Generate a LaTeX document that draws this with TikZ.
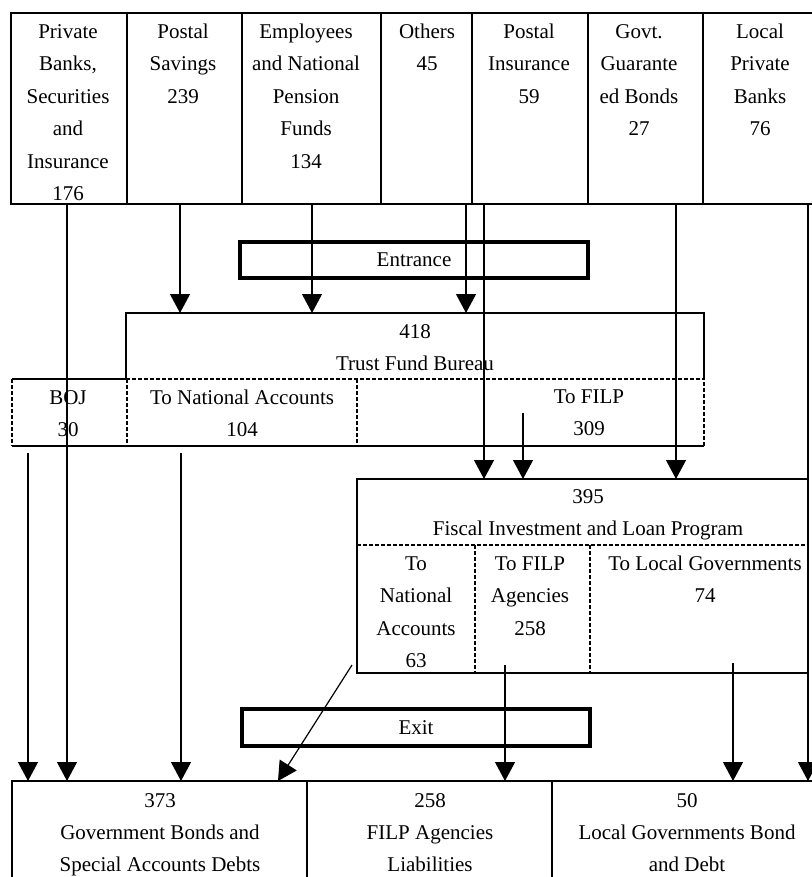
\documentclass[tikz,border=0pt]{standalone}
\usepackage{fontspec}
\setmainfont{Liberation Serif}
\usetikzlibrary{arrows.meta}
\begin{document}
\begin{tikzpicture}[x=1pt,y=-1pt,
  ln/.style={line width=1.2pt},
  dsh/.style={line width=1.1pt, dash pattern=on 4pt off 2pt},
  cell/.style={inner sep=0pt, outer sep=0pt, anchor=north west},
  cellD/.style={cell, draw, line width=1.2pt},
  txt/.style={inner sep=0pt, outer sep=0pt, anchor=north, yshift=16.5pt, align=center, font=\fontsize{21}{32.5}\selectfont},
  btxt/.style={txt, font=\fontsize{21}{32}\selectfont},
  gate/.style={draw, line width=3.3pt, inner sep=0pt, outer sep=0pt, font=\fontsize{21}{25}\selectfont},
  arr/.style={line width=1.2pt, -{Triangle[width=20pt,length=19pt]}}
]
\fill[white] (0,0) rectangle (811,877);
\useasboundingbox (0,0) rectangle (811,877);

% ---------- top row of sources ----------
\node[cellD, minimum width=116pt, minimum height=191pt] (t1) at (11,13) {};
\node[cellD, minimum width=115pt, minimum height=191pt] (t2) at (127,13) {};
\node[cellD, minimum width=139pt, minimum height=191pt] (t3) at (242,13) {};
\node[cellD, minimum width=91pt,  minimum height=191pt] (t4) at (381,13) {};
\node[cellD, minimum width=116pt, minimum height=191pt] (t5) at (472,13) {};
\node[cellD, minimum width=115pt, minimum height=191pt] (t6) at (588,13) {};
\node[cellD, minimum width=112pt, minimum height=191pt] (t7) at (703,13) {};

\node[txt] (l1) at (68,32)  {\strut Private\\Banks,\\Securities\\and\\Insurance\\176};
\node[txt] (l2) at (183,32) {\strut Postal\\Savings\\239};
\node[txt] (l3) at (306,32) {\strut Employees\\and National\\Pension\\Funds\\134};
\node[txt] (l4) at (427,32) {\strut Others\\45};
\node[txt] (l5) at (529,32) {\strut Postal\\Insurance\\59};
\node[txt] (l6) at (639,32) {\strut Govt.\\Guarante\\ed Bonds\\27};
\node[txt] (l7) at (760,32) {\strut Local\\Private\\Banks\\76};

% ---------- Trust Fund Bureau ----------
\node[cell, minimum width=578pt, minimum height=66pt] (tfb) at (126,313) {};
\node[cell, minimum width=115pt, minimum height=67pt] (boj) at (12,379) {};
\node[cell, minimum width=230pt, minimum height=67pt] (tna) at (127,379) {};
\node[cell, minimum width=347pt, minimum height=67pt] (tfp) at (357,379) {};

\draw[ln] (tfb.south west) -- (tfb.north west) -- (tfb.north east) -- (tfb.south east);
\draw[dsh] (tfb.south west) -- (tfb.south east);
\draw[ln] (boj.north west) -- (tfb.south west);
\draw[dsh] (boj.north west) -- (boj.south west);
\draw[ln] (boj.south west) -- (tfp.south east);
\draw[dsh] (tfp.south east) -- (tfp.north east);
\draw[dsh] (boj.north east) -- (boj.south east);
\draw[dsh] (tna.north east) -- (tna.south east);

\node[txt] (tfbt) at (415,332) {\strut 418\\Trust Fund Bureau};
\node[txt] (bojt) at (68,398)  {\strut BOJ\\30};
\node[txt] (tnat) at (242,398) {\strut To National Accounts\\104};
\node[txt] (tfpt) at (589,397) {\strut To FILP\\309};

% ---------- FILP ----------
\node[cell, minimum width=451pt, minimum height=66pt]  (fu) at (357,479) {};
\node[cell, minimum width=118pt, minimum height=128pt] (fn) at (357,545) {};
\node[cell, minimum width=115pt, minimum height=128pt] (fa) at (475,545) {};
\node[cell, minimum width=218pt, minimum height=128pt] (fl) at (590,545) {};

\draw[ln] (fu.north west) rectangle (fl.south east);
\draw[dsh] (fu.south west) -- (fu.south east);
\draw[dsh] (fn.north east) -- (fn.south east);
\draw[dsh] (fa.north east) -- (fa.south east);

\node[txt] (fut) at (588,497) {\strut 395\\Fiscal Investment and Loan Program};
\node[txt] (fnt) at (416,564) {\strut To\\National\\Accounts\\63};
\node[txt] (fat) at (530,564) {\strut To FILP\\Agencies\\258};
\node[txt] (flt) at (705,564) {\strut To Local Governments\\74};

% ---------- bottom row ----------
\node[cellD, minimum width=295pt, minimum height=100pt] (b1) at (12,781) {};
\node[cellD, minimum width=245pt, minimum height=100pt] (b2) at (307,781) {};
\node[cellD, minimum width=263pt, minimum height=100pt] (b3) at (552,781) {};

\node[btxt] (b1t) at (160,802) {\strut 373\\Government Bonds and\\Special Accounts Debts};
\node[btxt] (b2t) at (430,802) {\strut 258\\FILP Agencies\\Liabilities};
\node[btxt] (b3t) at (687,802) {\strut 50\\Local Governments Bond\\and Debt};

% ---------- connectors ----------
\coordinate (a28)  at (28,0);
\coordinate (a67)  at (67,0);
\coordinate (a180) at (180,0);
\coordinate (a181) at (181,0);
\coordinate (a312) at (312,0);
\coordinate (a466) at (466,0);
\coordinate (a484) at (484,0);
\coordinate (a676) at (676,0);
\coordinate (a808) at (808,0);
\coordinate (s523) at (523,413);
\coordinate (s505) at (505,665);
\coordinate (s733) at (733,663);
\coordinate (s352) at (352,665);
\coordinate (e278) at (278,0);

\draw[arr] (a67 |- t1.south) -- (a67 |- b1.north);
\draw[arr] (a180 |- t2.south) -- (a180 |- tfb.north);
\draw[arr] (a312 |- t3.south) -- (a312 |- tfb.north);
\draw[arr] (a466 |- t4.south) -- (a466 |- tfb.north);
\draw[arr] (a484 |- t5.south) -- (a484 |- fu.north);
\draw[arr] (a676 |- t6.south) -- (a676 |- fu.north);
\draw[arr] (a808 |- t7.south) -- (a808 |- b3.north);
\draw[arr] (s523) -- (s523 |- fu.north);
\draw[arr, shorten <=7pt] (a28 |- boj.south) -- (a28 |- b1.north);
\draw[arr, shorten <=7pt] (a181 |- tna.south) -- (a181 |- b1.north);
\draw[arr] (s505) -- (s505 |- b2.north);
\draw[arr] (s733) -- (s733 |- b3.north);
\draw[arr] (s352) -- (e278 |- b1.north);

% ---------- entrance / exit ----------
\node[gate, minimum width=348pt, minimum height=36pt] (ent) at (414,260) {Entrance};
\node[gate, minimum width=348pt, minimum height=37pt] (exi) at (416,727.5) {Exit};
\end{tikzpicture}
\end{document}
